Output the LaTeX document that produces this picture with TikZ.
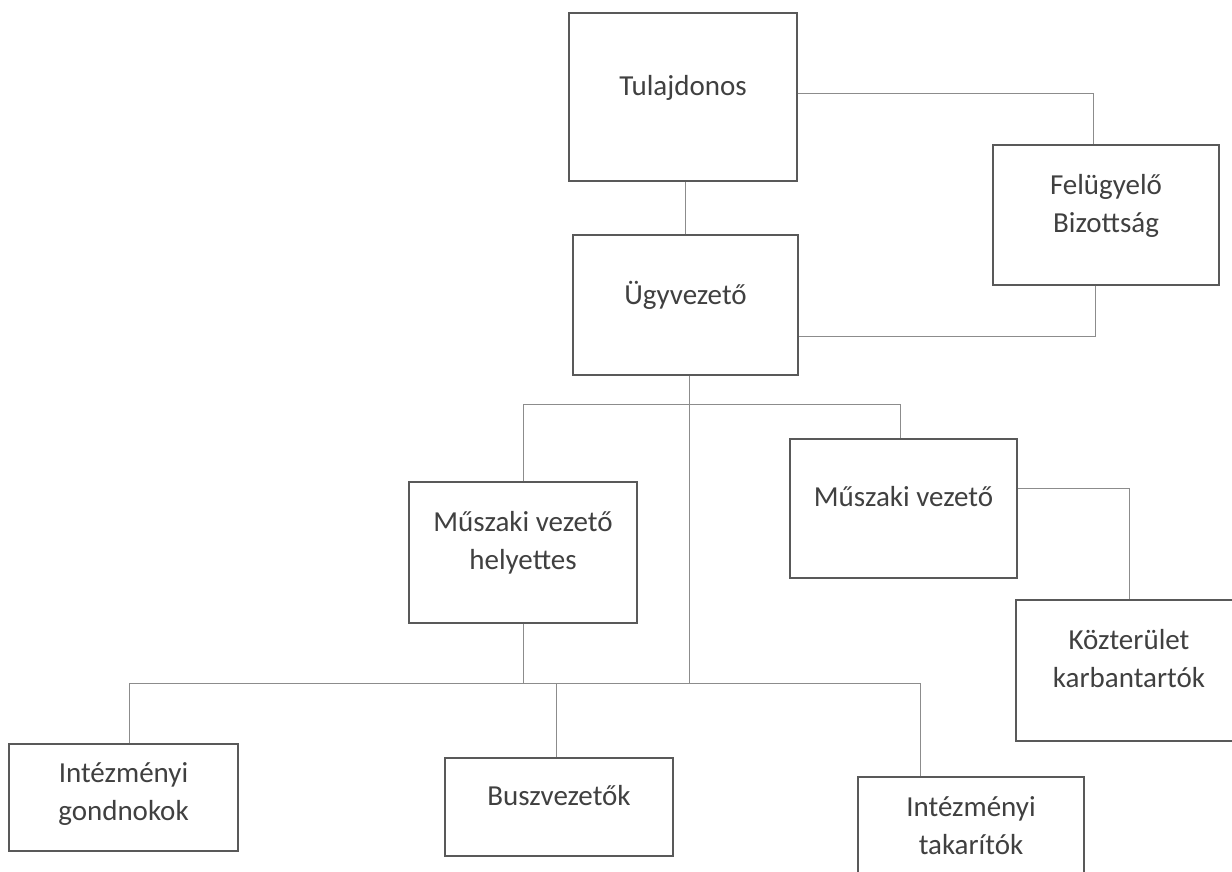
\documentclass[tikz,border=0pt]{standalone}
\usepackage{fontspec}
\setmainfont{Carlito}
\usetikzlibrary{calc}

\begin{document}
\begin{tikzpicture}[x=1pt, y=-1pt,
  box/.style={draw=black!65, line width=1.3pt, fill=white, align=center, inner sep=0pt,
    text=black!75, font=\fontsize{29}{38}\selectfont, text depth=24pt},
  link/.style={draw=black!45, line width=0.9pt}]

\useasboundingbox (0,0) rectangle (1232,871);

% Draw boxes
\node[box, minimum width=228pt, minimum height=168pt] (tul) at (683,97) {Tulajdonos};
\node[box, minimum width=226pt, minimum height=140pt] (fb) at (1106,215) {Felügyelő\\Bizottság};
\node[box, minimum width=225pt, minimum height=140pt] (ugy) at (685.5,305) {Ügyvezető};
\node[box, minimum width=228pt, minimum height=141pt] (mvh) at (523,552.5) {Műszaki vezető\\helyettes};
\node[box, minimum width=227pt, minimum height=139pt] (mv) at (903.5,508.5) {Műszaki vezető};
\node[box, minimum width=226pt, minimum height=141pt] (kozt) at (1129,670.5) {Közterület\\karbantartók};
\node[box, minimum width=229pt, minimum height=107pt, text depth=12pt] (ig) at (123.5,797.5) {Intézményi\\gondnokok};
\node[box, minimum width=228pt, minimum height=98pt] (busz) at (559,807) {Buszvezetők};
\node[box, minimum width=226pt, minimum height=107pt, text depth=9pt] (tak) at (971,830.5) {Intézményi\\takarítók};

% Joints on the trunk
\coordinate (upjoint) at (689,404);
\coordinate (lowjoint) at (689,683);

% Draw connectors
\draw[link] (ugy.north) -- (ugy.north |- tul.south);
\draw[link] ([yshift=4pt]tul.east) -| ([xshift=-13pt]fb.north);
\draw[link] ([xshift=-11pt]fb.south) |- ([yshift=-31pt]ugy.east);
\draw[link] ([xshift=3.5pt]ugy.south) -- (lowjoint);
\draw[link] (mvh.north) -- (mvh.north |- upjoint) -| ([xshift=-3.5pt]mv.north);
\draw[link] ([yshift=20pt]mv.east) -| (kozt.north);
\draw[link] (mvh.south) -- (mvh.south |- lowjoint);
\draw[link] ([xshift=5.5pt]ig.north) |- (lowjoint) -| ([xshift=-51pt]tak.north);
\draw[link] ([xshift=-3pt]busz.north) -- ([xshift=-3pt]busz.north |- lowjoint);

\end{tikzpicture}
\end{document}
